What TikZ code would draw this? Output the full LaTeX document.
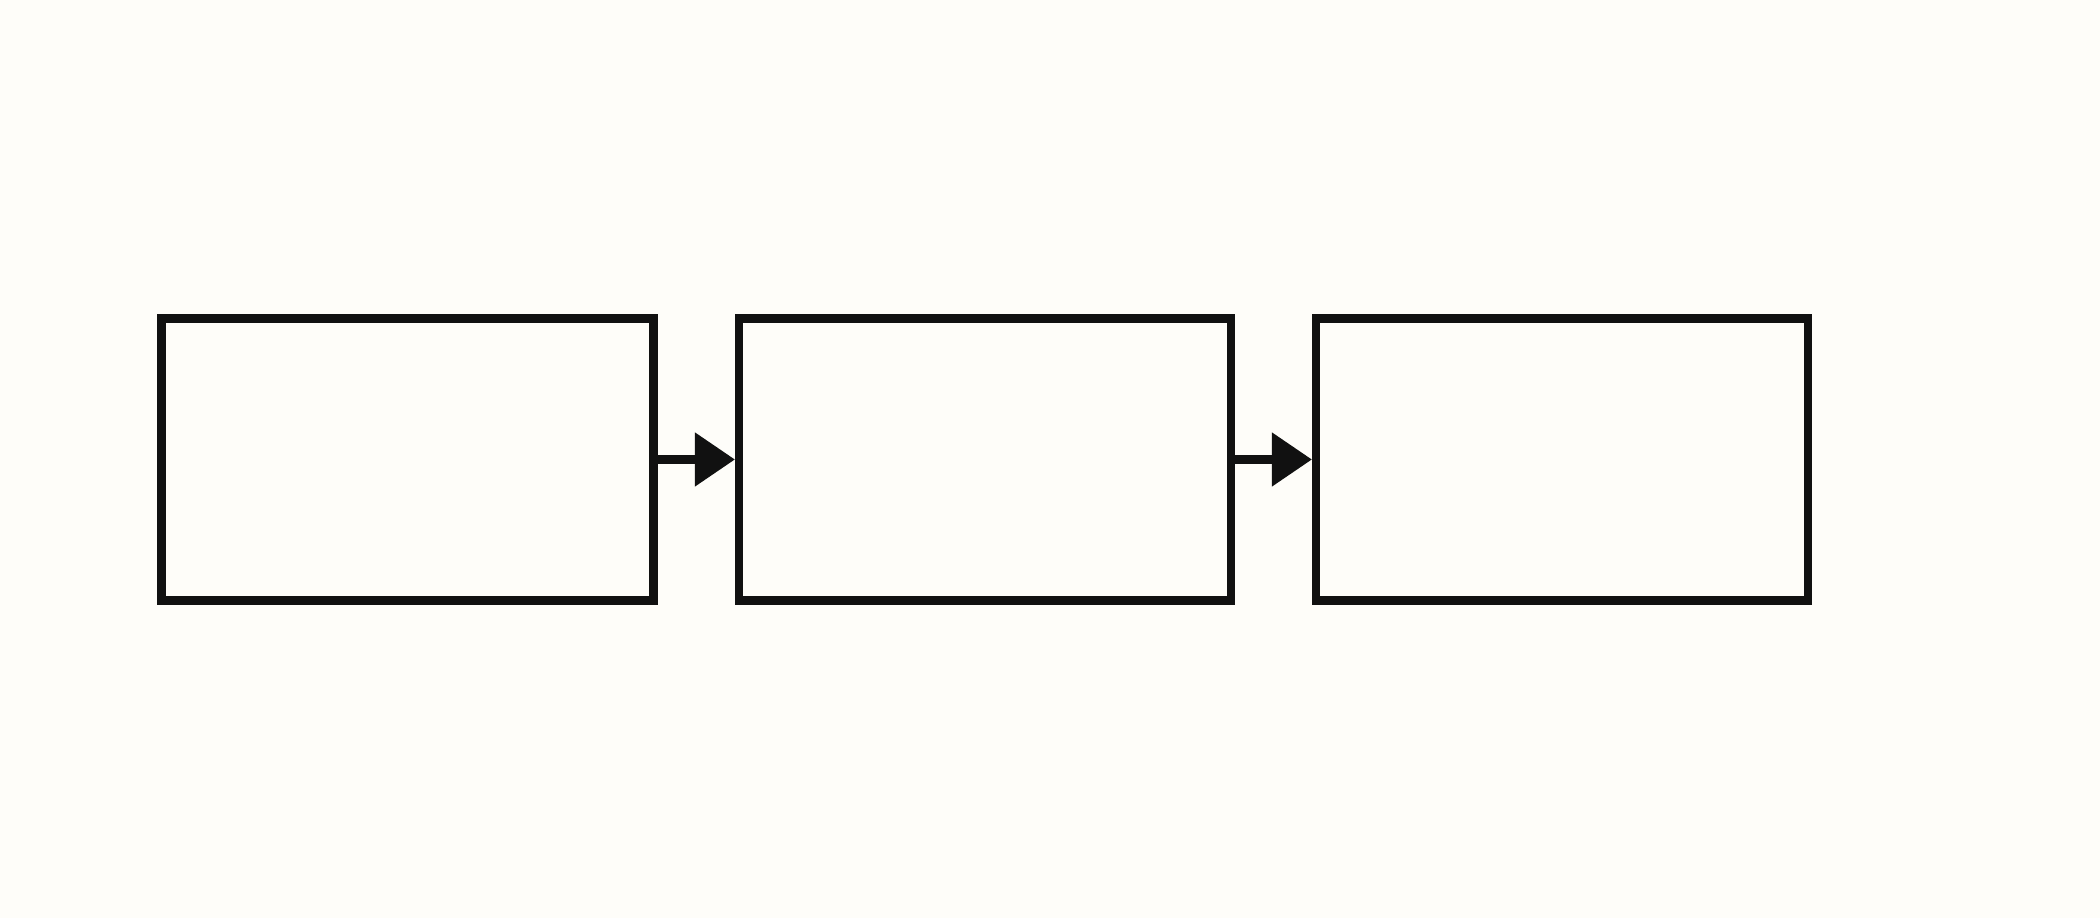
\documentclass[tikz,border=0pt]{standalone}
\usepackage{tikz}
\usetikzlibrary{arrows.meta}

\definecolor{bgcol}{HTML}{FEFDF9}
\definecolor{inkcol}{HTML}{111111}

\begin{document}
\begin{tikzpicture}[
  box/.style={draw=inkcol, line width=2.3pt, minimum width=4.92cm, minimum height=2.82cm, inner sep=0pt},
  link/.style={draw=inkcol, line width=2.3pt, -{Triangle[length=4mm, width=5.2mm]}}
]

  \fill[bgcol] (0,0) rectangle (21,9.18);
  \useasboundingbox (0,0) rectangle (21,9.18);

  \node[box] (first) at (4.075,4.585) {};
  \node[box] (second) at (9.85,4.585) {};
  \node[box] (third) at (15.62,4.585) {};

  \draw[link] (first) -- (second);
  \draw[link] (second) -- (third);

\end{tikzpicture}
\end{document}
